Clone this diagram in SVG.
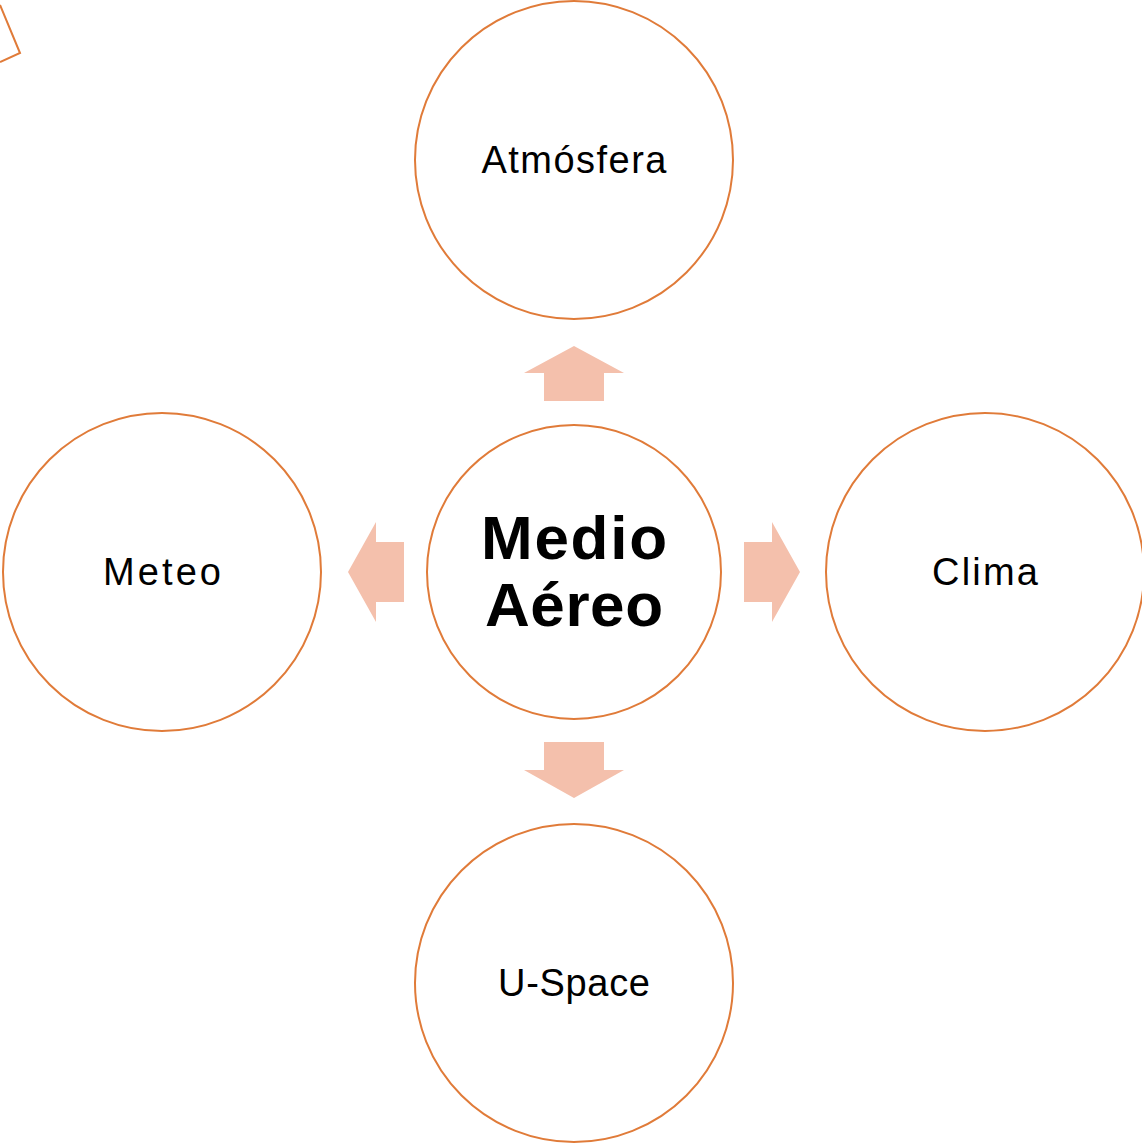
<svg xmlns="http://www.w3.org/2000/svg" width="1142" height="1144" viewBox="0 0 1142 1144">
<style>
.c{fill:#FFFFFF;stroke:#E07B39;stroke-width:2}
.a{fill:#F4C0AC;stroke:none}
.t{font-family:"Liberation Sans",Arial,sans-serif;font-size:38px;fill:#000;text-anchor:middle}
.b{font-family:"Liberation Sans",Arial,sans-serif;font-size:62px;font-weight:bold;fill:#000;text-anchor:middle}
</style>
<rect width="1142" height="1144" fill="#FFFFFF"/>
<polyline points="0,5 20,53 0,62" fill="none" stroke="#E07B39" stroke-width="2"/>
<g id="connectors">
<polygon class="a" points="574,346 624,373 604,373 604,401 544,401 544,373 524,373"/>
<polygon class="a" points="348,572 376,522 376,542 404,542 404,602 376,602 376,622"/>
<polygon class="a" points="800,572 772,522 772,542 744,542 744,602 772,602 772,622"/>
<polygon class="a" points="574,798 624,770 604,770 604,742 544,742 544,770 524,770"/>
</g>
<g id="center">
<circle class="c" cx="574" cy="572" r="147"/>
<text class="b" x="574" y="559" textLength="186">Medio</text>
<text class="b" x="574" y="626" textLength="178">Aéreo</text>
</g>
<g id="atmosfera">
<circle class="c" cx="574" cy="160" r="159"/>
<text class="t" x="574" y="173" textLength="185">Atmósfera</text>
</g>
<g id="meteo">
<circle class="c" cx="162" cy="572" r="159"/>
<text class="t" x="162" y="585" textLength="118">Meteo</text>
</g>
<g id="clima">
<circle class="c" cx="985" cy="572" r="159"/>
<text class="t" x="985" y="585" textLength="106">Clima</text>
</g>
<g id="uspace">
<circle class="c" cx="574" cy="983" r="159"/>
<text class="t" x="574" y="996" textLength="152">U-Space</text>
</g>
</svg>
